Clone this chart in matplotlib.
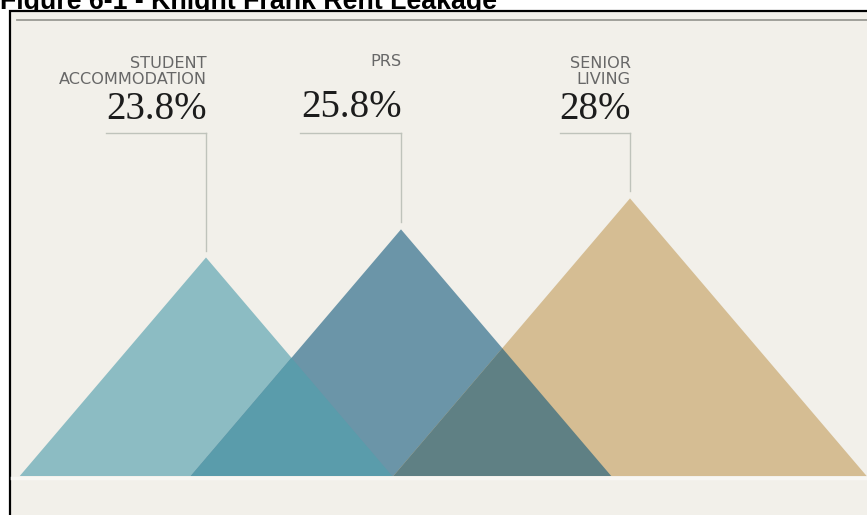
import matplotlib
matplotlib.use('Agg')

import matplotlib.pyplot as plt
from matplotlib.patches import Polygon, Rectangle
from matplotlib.transforms import blended_transform_factory

# Chart data
sectors = ['STUDENT\nACCOMMODATION', 'PRS', 'SENIOR\nLIVING']
leakage = [23.8, 25.8, 28.0]
value_labels = ['23.8%', '25.8%', '28%']

# Layout (x position of each peak, length of the leader line under each number)
peak_x = [206, 401, 630]
leader_len = [100, 101, 70]
base_y = 8.28          # value sitting on the baseline
spread = 12.0          # half width of a peak per unit of height
y_per_px = 1 / 14.08   # data units per pixel on the y axis

colors = ['#8cbcc3', '#6b95a8', '#d5bd93']
overlap_colors = {(0, 1): '#5a9cab', (1, 2): '#5f8084'}
bg = '#f2f0ea'

W, H = 867, 515
fig = plt.figure(figsize=(W / 100, H / 100), dpi=100, facecolor='white')

# Title (cut by the top edge, as in the source scan) and frame
fig.text(0.0, 1 - 9 / H, 'Figure 6-1 - Knight Frank Rent Leakage', fontsize=19.3,
         fontweight='bold', family='Liberation Sans', ha='left', va='baseline', color='black',
         zorder=-3)
fig.patches.append(Rectangle((10 / W, -0.05), 1.1, 1 - 11 / H + 0.05, transform=fig.transFigure,
                             facecolor=bg, edgecolor='black', linewidth=1.6, zorder=-2))
fig.lines.append(plt.Line2D([17 / W, 1], [1 - 20 / H] * 2, transform=fig.transFigure,
                            color='#9a9a94', linewidth=1.3, zorder=-1))

ax = fig.add_axes([0, 0, 1, 1])
ax.set_xlim(0, W)
ax.set_ylim(5.51, 42.09)
ax.axis('off')
ax.patch.set_visible(False)

# Peaks
patches = []
for i, (x, v) in enumerate(zip(peak_x, leakage)):
    hw = spread * (v - base_y)
    p = Polygon([(x - hw, base_y), (x, v), (x + hw, base_y)], closed=True,
                facecolor=colors[i], edgecolor='none', zorder=2)
    ax.add_patch(p)
    patches.append(p)

# Overlapping parts drawn darker
for (a, b), c in overlap_colors.items():
    hw = spread * (leakage[b] - base_y)
    x = peak_x[b]
    p = Polygon([(x - hw, base_y), (x, leakage[b]), (x + hw, base_y)], closed=True,
                facecolor=c, edgecolor='none', zorder=3)
    ax.add_patch(p)
    p.set_clip_path(patches[a])

# faint light band under the baseline
ax.axhline(base_y - 2 * y_per_px, xmin=12 / W, color='#f8f7f3', linewidth=2.5, zorder=1)

# Labels and leader lines
trans = blended_transform_factory(ax.transData, fig.transFigure)
leader_y = base_y + (476 - 133) * y_per_px
for i, (x, v) in enumerate(zip(peak_x, leakage)):
    ax.plot([x, x], [v + 7 * y_per_px, leader_y], color='#bfc3bb', linewidth=1, zorder=1)
    ax.plot([x - leader_len[i], x], [leader_y] * 2, color='#bfc3bb', linewidth=1, zorder=1)
    num_y = 119 if i != 1 else 117
    ax.text(x + 1, 1 - num_y / H, value_labels[i], transform=trans, ha='right', va='baseline',
            fontsize=28, family='Liberation Serif', color='#1c1c1c')
    ax.text(x + 1, 1 - (84 if '\n' in sectors[i] else 66) / H, sectors[i], transform=trans,
            ha='right', va='baseline', fontsize=11.6, family='DejaVu Sans', color='#676767',
            linespacing=1.12, multialignment='right')

fig.savefig('out.png', dpi=100, facecolor='white')
